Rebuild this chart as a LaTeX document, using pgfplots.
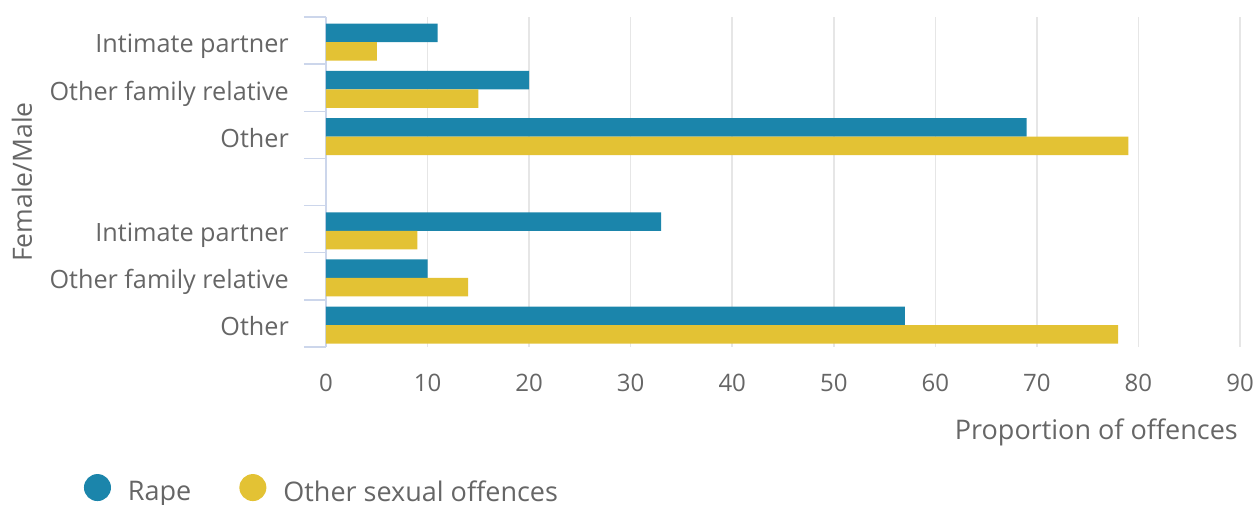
\documentclass[border=0pt]{standalone}
\usepackage{pgfplots}
\pgfplotsset{compat=1.18}
\usepackage{fontspec}
\setmainfont{Open Sans}
\definecolor{rape}{RGB}{27,133,171}
\definecolor{oso}{RGB}{227,194,52}
\definecolor{txt}{RGB}{102,102,102}
\definecolor{axl}{RGB}{204,214,235}
\definecolor{grd}{RGB}{230,230,230}
\begin{document}
\begin{tikzpicture}
\begin{axis}[
  at={(326pt,157pt)}, anchor=south west,
  scale only axis, width=914pt, height=330pt,
  xbar, bar width=18.5pt,
  xmin=0, xmax=90,
  ymin=-0.5, ymax=6.5, y dir=reverse,
  axis x line*=bottom, axis y line*=left,
  x axis line style={draw=none},
  y axis line style={draw=axl, line width=1.5pt, -},
  xtick={0,10,...,90},
  ytick={0,1,2,4,5,6},
  yticklabels={Intimate partner, Other family relative, Other, Intimate partner, Other family relative, Other},
  minor ytick={-0.5,0.5,...,6.5},
  major tick length=0pt,
  minor tick length=22pt,
  tick align=outside,
  every minor tick/.style={axl, line width=1.5pt},
  xmajorgrids,
  major grid style={grd, line width=1.5pt},
  /pgf/number format/assume math mode=true,
  xticklabel style={font=\fontsize{24}{28}\selectfont, text=txt, anchor=north, inner sep=0pt, yshift=-27pt},
  yticklabel style={font=\fontsize{25.2}{30}\selectfont, text=txt, anchor=base east, inner sep=0pt, xshift=-37pt, yshift=-12.4pt},
  xlabel={Proportion of offences},
  xlabel style={at={(axis description cs:1,0)}, anchor=base east, inner sep=0pt, yshift=-92pt, xshift=-2pt, font=\fontsize{27}{32}\selectfont, text=txt},
  ylabel={Female/Male},
  ylabel style={at={([xshift=-304pt]axis description cs:0,0.5)}, anchor=center, inner sep=0pt, font=\fontsize{26.5}{32}\selectfont, text=txt},
  legend image code/.code={\fill[#1] (13.5pt,4.5pt) circle (13.5pt);},
  legend columns=2,
  legend style={at={(axis description cs:-0.2648,-0.4291)}, anchor=west, draw=none, fill=none, inner sep=0pt, outer sep=0pt,
    font=\fontsize{27}{32}\selectfont, text=txt, column sep=17pt,
    nodes={inner sep=0pt},
    /tikz/every even column/.append style={column sep=48pt}},
]
\addplot[fill=rape, draw=none, bar shift=7.6pt] coordinates {(11,0) (20,1) (69,2) (33,4) (10,5) (57,6)};
\addplot[fill=oso, draw=none, bar shift=-10.9pt] coordinates {(5,0) (15,1) (79,2) (9,4) (14,5) (78,6)};
\legend{Rape, Other sexual offences}
\end{axis}
\pgfresetboundingbox
\path[use as bounding box] (0,0) rectangle (1253pt,504pt);
\end{tikzpicture}
\end{document}
